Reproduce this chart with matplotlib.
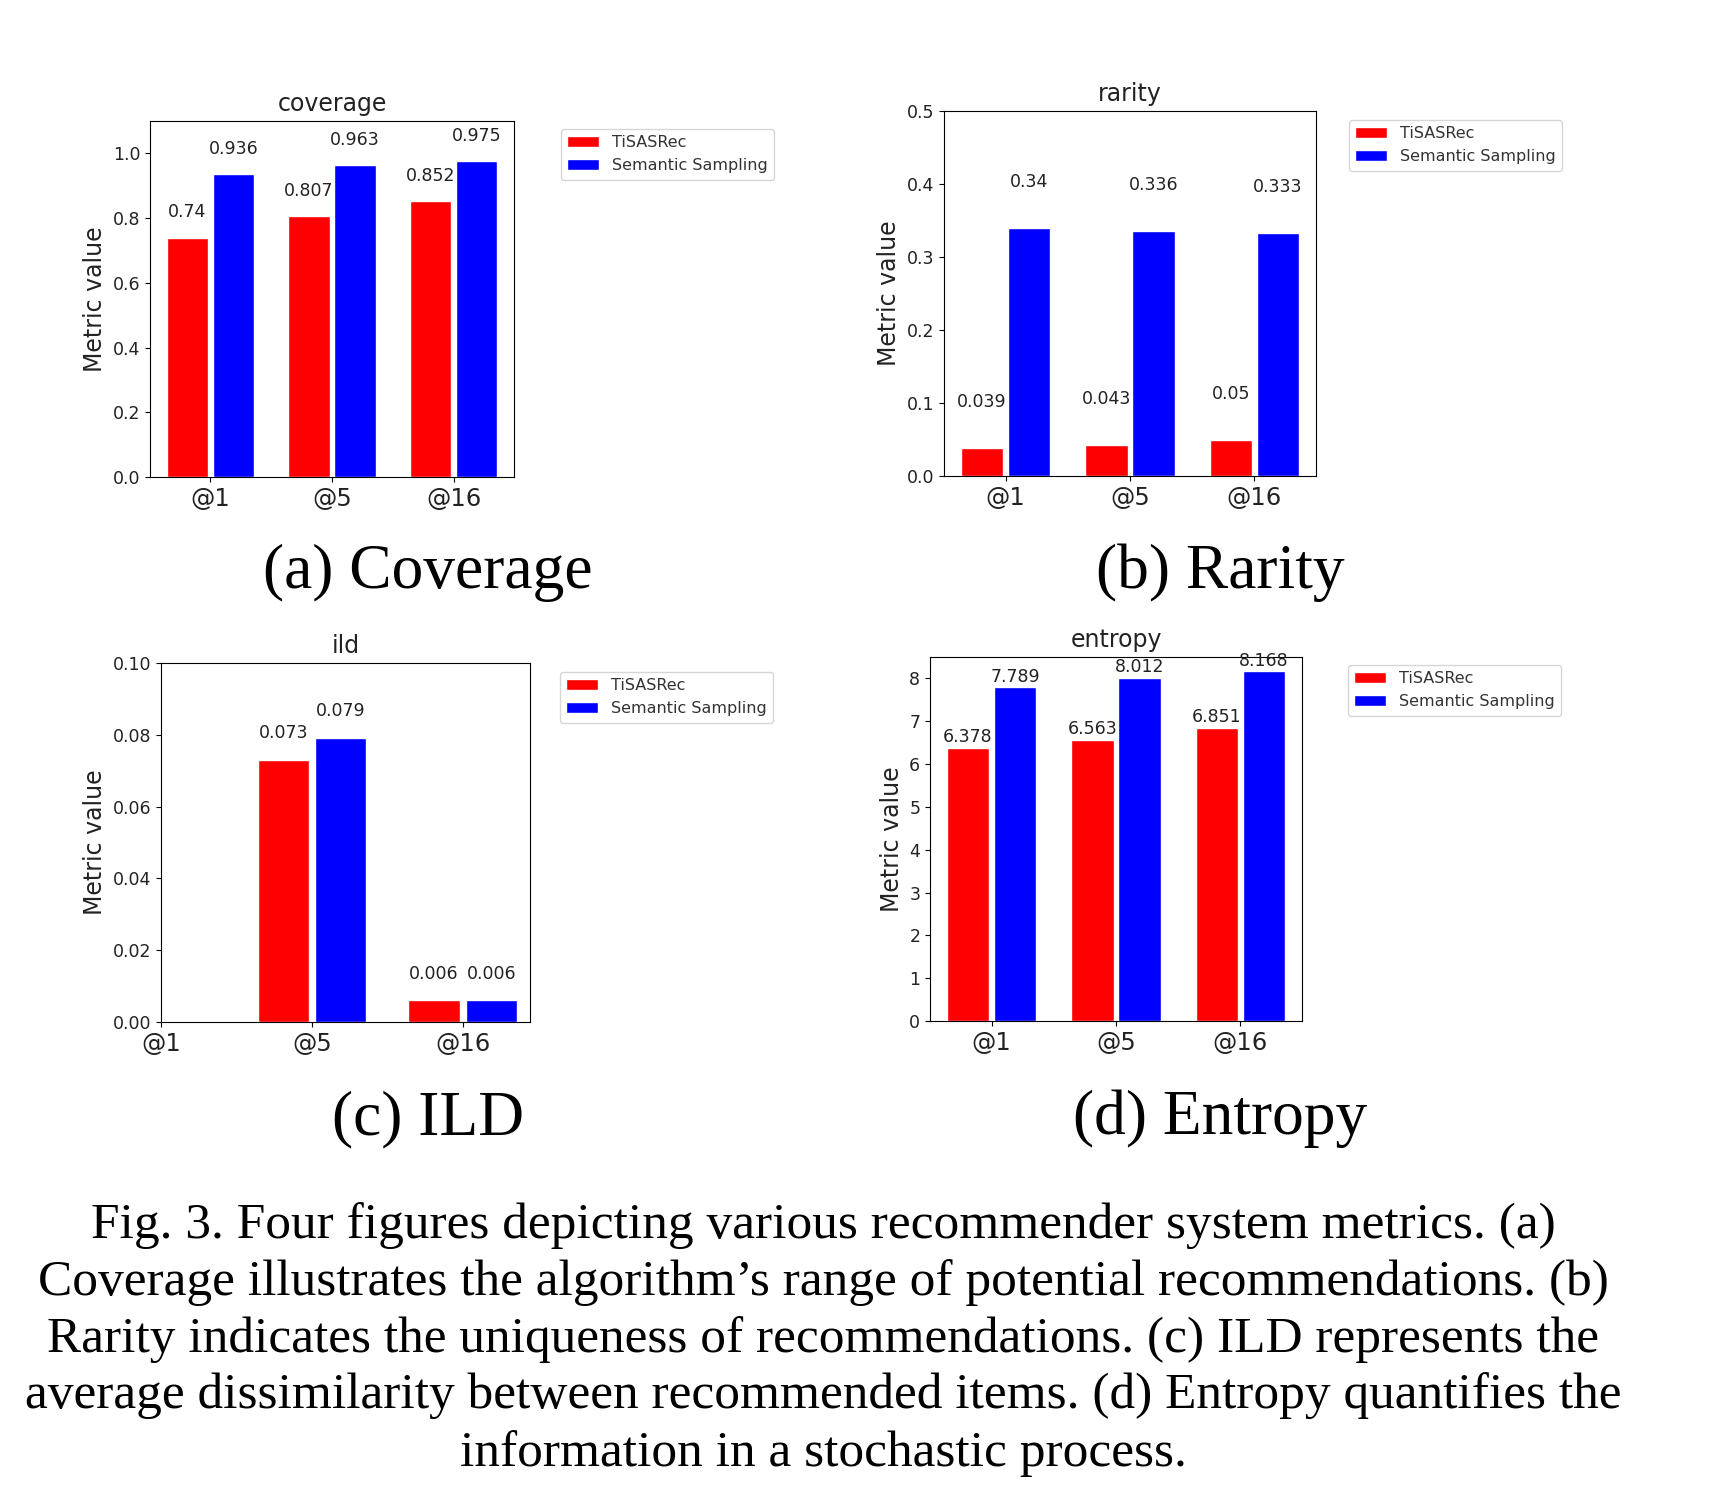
import numpy as np
import matplotlib
matplotlib.use("Agg")
import matplotlib.pyplot as plt

W, H = 1718, 1512

# data
ks = ["@1", "@5", "@16"]
coverage_tis = [0.74, 0.807, 0.852]
coverage_sem = [0.936, 0.963, 0.975]
rarity_tis = [0.039, 0.043, 0.05]
rarity_sem = [0.34, 0.336, 0.333]
ild_tis = [np.nan, 0.073, 0.006]
ild_sem = [np.nan, 0.079, 0.006]
entropy_tis = [6.378, 6.563, 6.851]
entropy_sem = [7.789, 8.012, 8.168]

series_names = ["TiSASRec", "Semantic Sampling"]
sub_captions = ["(a) Coverage", "(b) Rarity", "(c) ILD", "(d) Entropy"]
caption_lines = [
    "Fig. 3. Four figures depicting various recommender system metrics. (a)",
    "Coverage illustrates the algorithm\u2019s range of potential recommendations. (b)",
    "Rarity indicates the uniqueness of recommendations. (c) ILD represents the",
    "average dissimilarity between recommended items. (d) Entropy quantifies the",
    "information in a stochastic process.",
]


def px_axes(fig, l, r, t, b):
    return fig.add_axes([l / W, 1 - b / H, (r - l) / W, (b - t) / H])


def bar_panel(ax, title, tis, sem, off):
    x = np.arange(len(ks))
    tis = np.array(tis, dtype=float)
    sem = np.array(sem, dtype=float)
    ok = ~np.isnan(tis)
    ax.bar(x[ok] - 0.19, tis[ok], 0.34, color="red", edgecolor="white",
           linewidth=1, label=series_names[0])
    ax.bar(x[ok] + 0.19, sem[ok], 0.34, color="blue", edgecolor="white",
           linewidth=1, label=series_names[1])
    for xi, v in zip(x[ok] - 0.19, tis[ok]):
        ax.text(xi, v + off, f"{v:g}", ha="center", va="bottom",
                fontsize=12.5, color="#222222")
    for xi, v in zip(x[ok] + 0.19, sem[ok]):
        ax.text(xi, v + off, f"{v:g}", ha="center", va="bottom",
                fontsize=12.5, color="#222222")
    ax.set_xticks(x)
    ax.set_xticklabels(ks, fontsize=17.5, color="#222222")
    ax.tick_params(axis="y", labelsize=12.5, labelcolor="#222222")
    ax.set_title(title, fontsize=17, color="#222222", pad=7)
    ax.set_ylabel("Metric value", fontsize=17, color="#222222")


def add_legend(fig, ax, lx, ty):
    ax.legend(loc="upper left", bbox_to_anchor=(lx / W, 1 - ty / H),
              bbox_transform=fig.transFigure, borderaxespad=0,
              fontsize=11.5, labelcolor="#333333")


fig = plt.figure(figsize=(W / 100, H / 100), dpi=100)

ax_a = px_axes(fig, 150, 514, 121, 477)
bar_panel(ax_a, "coverage", coverage_tis, coverage_sem, 0.05)
ax_a.set_ylim(0, 1.1)
add_legend(fig, ax_a, 561, 129)

ax_b = px_axes(fig, 944, 1316, 111, 476)
bar_panel(ax_b, "rarity", rarity_tis, rarity_sem, 0.05)
ax_b.set_ylim(0, 0.5)
add_legend(fig, ax_b, 1349, 120)

ax_c = px_axes(fig, 161, 530, 663, 1022)
bar_panel(ax_c, "ild", ild_tis, ild_sem, 0.005)
ax_c.set_xlim(left=0)
ax_c.set_ylim(0, 0.10)
add_legend(fig, ax_c, 560, 672)

ax_d = px_axes(fig, 930, 1302, 657, 1021)
bar_panel(ax_d, "entropy", entropy_tis, entropy_sem, 0.04)
ax_d.set_ylim(0, 8.5)
add_legend(fig, ax_d, 1348, 665)

serif = ["Liberation Serif", "DejaVu Serif"]
sub_pos = [(428, 573), (1220, 573), (428, 1119), (1220, 1119)]
for txt, (cx, cy) in zip(sub_captions, sub_pos):
    fig.text(cx / W, 1 - cy / H, txt, ha="center", va="center",
             fontsize=45.7, family=serif)

line_y = [1226, 1283, 1340, 1396, 1454]
for txt, ly in zip(caption_lines, line_y):
    fig.text(823 / W, 1 - ly / H, txt, ha="center", va="center",
             fontsize=37, family=serif)

fig.savefig("out.png", dpi=100)
